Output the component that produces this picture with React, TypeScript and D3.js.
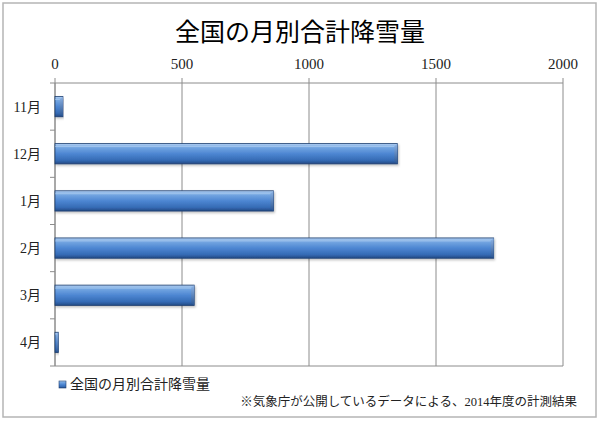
import React from 'react';
import * as d3 from 'd3';

const months = ['11月', '12月', '1月', '2月', '3月', '4月'];
const snowfall = [31, 1348, 860, 1727, 548, 13];
const xTicks = [0, 500, 1000, 1500, 2000];

const title = '全国の月別合計降雪量';
const seriesName = '全国の月別合計降雪量';
const note = '※気象庁が公開しているデータによる、2014年度の計測結果';

const W = 600;
const H = 421;
const plot = { left: 55, right: 563, top: 83, bottom: 366 };
const font = '"Liberation Serif", "Noto Sans CJK JP", serif';

export default function App() {
  const x = d3.scaleLinear().domain([0, 2000]).range([plot.left, plot.right]);
  const y = d3.scaleBand<string>()
    .domain(months)
    .range([plot.top, plot.bottom])
    .paddingInner(0.57)
    .paddingOuter(0.285);
  const band = (plot.bottom - plot.top) / months.length;
  const bh = y.bandwidth();

  return (
    <svg width={W} height={H} style={{ position: 'absolute', left: 0, top: 0, background: '#fff' }}>
      <defs>
        <linearGradient id="barGrad" x1="0" y1="0" x2="0" y2="1">
          <stop offset="0" stopColor="#b3d0f2" />
          <stop offset="0.18" stopColor="#75a7e2" />
          <stop offset="0.5" stopColor="#4d86d2" />
          <stop offset="0.82" stopColor="#356bb5" />
          <stop offset="1" stopColor="#234a84" />
        </linearGradient>
        <linearGradient id="capGrad" x1="0" y1="0" x2="0" y2="1">
          <stop offset="0" stopColor="#8fb5e6" />
          <stop offset="1" stopColor="#2b5591" />
        </linearGradient>
        <filter id="shadow" x="-5%" y="-30%" width="110%" height="180%">
          <feDropShadow dx="1" dy="1.5" stdDeviation="1" floodColor="#000" floodOpacity="0.25" />
        </filter>
      </defs>

      {/* outer frame */}
      <rect x={3} y={3} width={593} height={414} fill="#fff" stroke="#b5b5b5" strokeWidth={1.5} />

      <text x={300} y={41} textAnchor="middle" fontFamily={font} fontSize={25} fill="#000">{title}</text>

      {/* value gridlines and top axis */}
      {xTicks.map(t => (
        <g key={t}>
          <line x1={x(t)} x2={x(t)} y1={plot.top - 5} y2={plot.bottom} stroke="#8c8c8c" strokeWidth={1} />
          <text x={x(t)} y={69} textAnchor="middle" fontFamily={font} fontSize={15} fill="#222">{t}</text>
        </g>
      ))}
      <line x1={plot.left} x2={plot.right} y1={plot.top} y2={plot.top} stroke="#8c8c8c" />
      <line x1={plot.left - 5} x2={plot.right} y1={plot.bottom} y2={plot.bottom} stroke="#8c8c8c" />

      {/* category axis */}
      <line x1={plot.left} x2={plot.left} y1={plot.top} y2={plot.bottom} stroke="#8c8c8c" />
      {months.map((m, i) => (
        <g key={m}>
          <line x1={plot.left - 5} x2={plot.left} y1={plot.top + band * i} y2={plot.top + band * i} stroke="#8c8c8c" />
          <text x={41} y={(y(m) ?? 0) + bh / 2 + 5} textAnchor="end" fontFamily={font} fontSize={14} fill="#222">{m}</text>
        </g>
      ))}

      {/* bars */}
      {months.map((m, i) => {
        const y0 = y(m) ?? 0;
        const x1 = x(snowfall[i]);
        const w = x1 - x(0);
        const bev = Math.min(3, w / 2);
        return (
          <g key={m} filter="url(#shadow)">
            <rect x={x(0)} y={y0} width={w} height={bh} fill="url(#barGrad)" stroke="#1f3f70" strokeWidth={0.8} />
            <polygon
              points={`${x1 - bev},${y0 + bev} ${x1},${y0} ${x1},${y0 + bh} ${x1 - bev},${y0 + bh - bev}`}
              fill="url(#capGrad)"
            />
            <line x1={x(0)} x2={x1 - bev} y1={y0 + bev} y2={y0 + bev} stroke="#c4dbf5" strokeOpacity={0.6} strokeWidth={0.8} />
          </g>
        );
      })}

      {/* legend */}
      <rect x={59} y={381} width={7} height={7} fill="url(#barGrad)" stroke="#1f3f70" strokeWidth={0.6} />
      <text x={70} y={389} fontFamily={font} fontSize={14} fill="#222">{seriesName}</text>

      <text x={577} y={406} textAnchor="end" fontFamily={font} fontSize={12.5} fill="#222">{note}</text>
    </svg>
  );
}
